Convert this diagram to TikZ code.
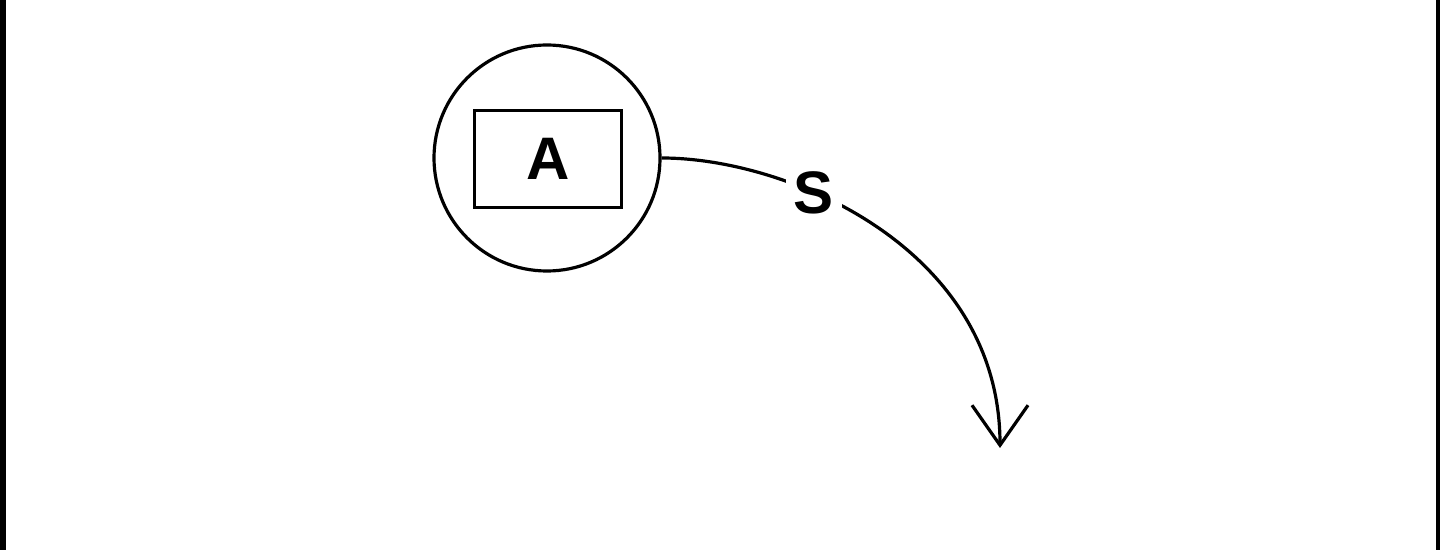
\documentclass[tikz,border=0pt]{standalone}
\usepackage{fontspec}
\setmainfont{Liberation Sans}
\usetikzlibrary{arrows.meta}
\begin{document}
\begin{tikzpicture}[x=0.5pt,y=-0.5pt,
  edgeline/.style={line width=1.6pt},
  ring/.style={circle,draw,line width=1.6pt,minimum size=113pt,inner sep=0pt},
  box/.style={rectangle,draw,line width=1.6pt,minimum width=73.5pt,minimum height=48.5pt,inner sep=0pt,font=\fontsize{30}{36}\selectfont\bfseries},
  lbl/.style={fill=white,inner sep=4pt,font=\fontsize{30}{36}\selectfont\bfseries}]
  \useasboundingbox (0,0) rectangle (1440,550);
  \fill[white] (0,0) rectangle (1440,550);
  \fill[black] (0,0) rectangle (6,550);
  \fill[black] (1436,0) rectangle (1440,550);
  \node[ring] (c) at (547,158) {};
  \node[box] (a) at (548,159) {A};
  \coordinate (e) at (1000,448);
  \draw[edgeline,-{Straight Barb[length=20pt,width=28pt,line width=1.6pt]}]
    (c.east) .. controls (790,158) and (1000,250) .. node[lbl,pos=0.35] {S} (e);
\end{tikzpicture}
\end{document}
